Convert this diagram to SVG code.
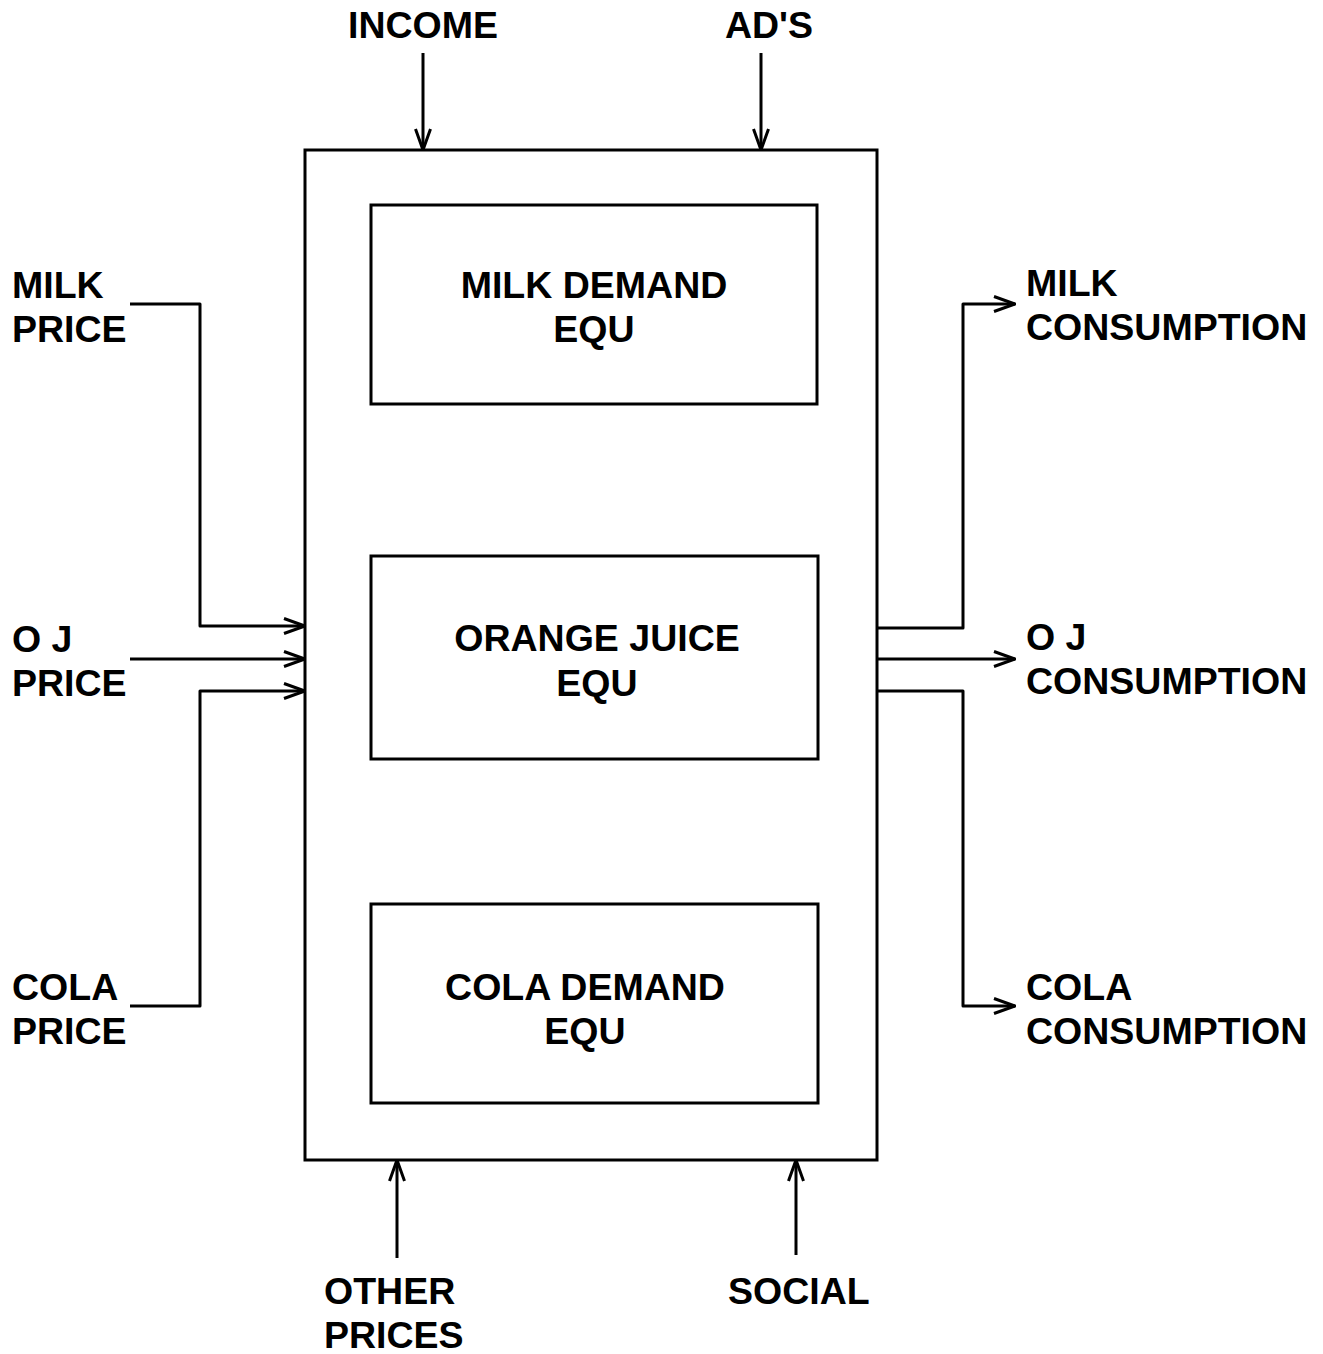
<svg xmlns="http://www.w3.org/2000/svg" width="1323" height="1354" viewBox="0 0 1323 1354">
<style>
text{font-family:"Liberation Sans",Arial,sans-serif;font-weight:bold;font-size:37.5px;fill:#000}
.c{text-anchor:middle}
.box{fill:none;stroke:#000;stroke-width:3}
.ln{fill:none;stroke:#000;stroke-width:3;stroke-linejoin:round}
</style>
<defs>
<marker id="a" viewBox="0 0 24 18" refX="23" refY="9" markerWidth="24" markerHeight="18" markerUnits="userSpaceOnUse" orient="auto">
<path d="M2,1.5 L23,9 L2,16.5" fill="none" stroke="#000" stroke-width="3"/>
</marker>
</defs>
<rect width="1323" height="1354" fill="#fff"/>
<g id="system"><rect class="box" x="305" y="150" width="572" height="1010"/></g>
<g id="milk-eq"><rect class="box" x="371" y="205" width="446" height="199"/><text class="c" x="594" y="298">MILK DEMAND</text><text class="c" x="594" y="342">EQU</text></g>
<g id="oj-eq"><rect class="box" x="371" y="556" width="447" height="203"/><text class="c" x="597" y="651">ORANGE JUICE</text><text class="c" x="597" y="696">EQU</text></g>
<g id="cola-eq"><rect class="box" x="371" y="904" width="447" height="199"/><text class="c" x="585" y="1000">COLA DEMAND</text><text class="c" x="585" y="1044">EQU</text></g>
<g id="income"><text class="c" x="423" y="38">INCOME</text></g>
<g id="ads"><text class="c" x="769" y="38">AD'S</text></g>
<g id="milk-price"><text x="12" y="298">MILK</text><text x="12" y="342">PRICE</text></g>
<g id="oj-price"><text x="12" y="652">O J</text><text x="12" y="696">PRICE</text></g>
<g id="cola-price"><text x="12" y="1000">COLA</text><text x="12" y="1044">PRICE</text></g>
<g id="milk-cons"><text x="1026" y="296">MILK</text><text x="1026" y="340">CONSUMPTION</text></g>
<g id="oj-cons"><text x="1026" y="650">O J</text><text x="1026" y="694">CONSUMPTION</text></g>
<g id="cola-cons"><text x="1026" y="1000">COLA</text><text x="1026" y="1044">CONSUMPTION</text></g>
<g id="other-prices"><text x="324" y="1304">OTHER</text><text x="324" y="1348">PRICES</text></g>
<g id="social"><text x="728" y="1304">SOCIAL</text></g>
<g id="connectors">
<path class="ln" d="M130,304 H200 V626 H305" marker-end="url(#a)"/>
<path class="ln" d="M130,659 H305" marker-end="url(#a)"/>
<path class="ln" d="M130,1006 H200 V691 H305" marker-end="url(#a)"/>
<path class="ln" d="M423,53 V150" marker-end="url(#a)"/>
<path class="ln" d="M761,53 V150" marker-end="url(#a)"/>
<path class="ln" d="M397,1258 V1160" marker-end="url(#a)"/>
<path class="ln" d="M796,1255 V1160" marker-end="url(#a)"/>
<path class="ln" d="M877,628 H963 V304 H1015" marker-end="url(#a)"/>
<path class="ln" d="M877,659 H1015" marker-end="url(#a)"/>
<path class="ln" d="M877,691 H963 V1006 H1015" marker-end="url(#a)"/>
</g>
</svg>
